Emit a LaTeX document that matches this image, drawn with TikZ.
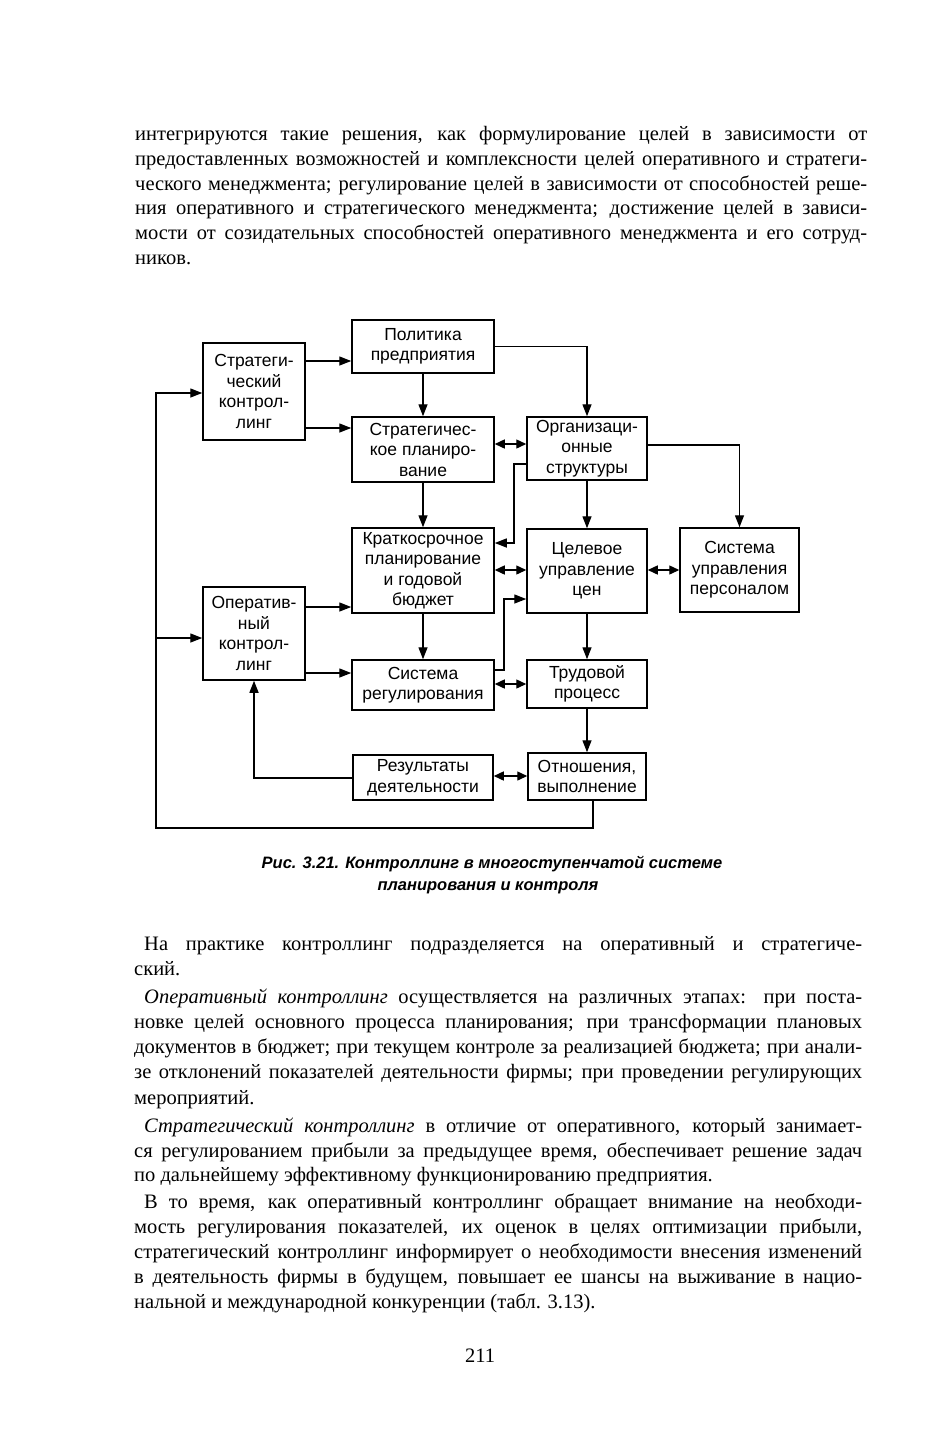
\documentclass[tikz,border=0pt]{standalone}
\usepackage{fontspec}
\setmainfont{Liberation Serif}
\newfontfamily\diagfont{Liberation Sans}
\usetikzlibrary{arrows.meta}
\newcommand\jline[5]{\node[body,anchor=base west] (#1) at (#2,#4) {\makebox[\dimexpr#3pt-#2pt\relax][s]{#5}};}
\newcommand\eline[4]{\node[body,anchor=base west] (#1) at (#2,#3) {#4};}
\begin{document}
\begin{tikzpicture}[x=1pt,y=-1pt,
  body/.style={inner sep=0pt,font=\fontsize{20.5}{25}\selectfont},
  box/.style={draw,line width=1.5pt,inner sep=0pt,align=center,
    font=\diagfont\fontsize{17.5}{20.5}\selectfont},
  captext/.style={inner sep=0pt,anchor=base,font=\diagfont\bfseries\itshape\fontsize{16.5}{22}\selectfont},
  arr/.style={line width=1.4pt,-{Triangle[length=12pt,width=9pt]}},
  darr/.style={line width=1.4pt,{Triangle[length=10pt,width=9pt]}-{Triangle[length=10pt,width=9pt]}}]
\fill[white] (0,0) rectangle (934,1440);
\useasboundingbox (0,0) rectangle (934,1440);

% ---- top paragraph ----
\jline{a1}{135}{867}{140}{интегрируются такие решения, как формулирование целей в зависимости от}
\jline{a2}{135}{867}{165}{предоставленных возможностей и комплексности целей оперативного и стратеги-}
\jline{a3}{135}{867}{190}{ческого менеджмента; регулирование целей в зависимости от способностей реше-}
\jline{a4}{135}{867}{214}{ния оперативного и стратегического менеджмента; достижение целей в зависи-}
\jline{a5}{135}{867}{239}{мости от созидательных способностей оперативного менеджмента и его сотруд-}
\eline{a6}{135}{264}{ников.}

% ---- diagram boxes ----
\node[box,minimum width=142pt,minimum height=53pt] (pol) at (423,346.5) {Политика\\предприятия};
\node[box,minimum width=102pt,minimum height=97pt] (sk) at (254,391.5) {Стратеги-\\ческий\\контрол-\\линг};
\node[box,minimum width=142pt,minimum height=65pt] (sp) at (423,449.5) {Стратегичес-\\кое планиро-\\вание};
\node[box,minimum width=120pt,minimum height=63pt] (os) at (587,448.5) {Организаци-\\онные\\структуры};
\node[box,minimum width=142pt,minimum height=85pt] (kp) at (423,570.5) {Краткосрочное\\планирование\\и годовой\\бюджет};
\node[box,minimum width=120pt,minimum height=84pt] (cu) at (587,571) {Целевое\\управление\\цен};
\node[box,minimum width=119pt,minimum height=84pt] (sup) at (739.5,570) {Система\\управления\\персоналом};
\node[box,minimum width=102pt,minimum height=93pt] (ok) at (254,633.5) {Оператив-\\ный\\контрол-\\линг};
\node[box,minimum width=142pt,minimum height=50pt] (sr) at (423,685) {Система\\регулирования};
\node[box,minimum width=120pt,minimum height=48pt] (tp) at (587,684) {Трудовой\\процесс};
\node[box,minimum width=140pt,minimum height=45pt] (res) at (423,777.5) {Результаты\\деятельности};
\node[box,minimum width=118pt,minimum height=47pt] (ot) at (587,776.5) {Отношения,\\выполнение};

% ---- connectors ----
\draw[arr] (sk.east|-0,361) -- (pol.west|-0,361);
\draw[arr] (sk.east|-0,428) -- (sp.west|-0,428);
\draw[arr] (pol.south) -- (sp.north);
\draw[arr] (pol.east) -| (os.north);
\draw[darr] (sp.east|-0,444) -- (os.west|-0,444);
\draw[arr] (os.east|-0,445) -| (sup.north);
\draw[arr] (os.west|-0,464) -- (514,464) -- (514,543) -- (kp.east|-0,543);
\draw[arr] (sp.south) -- (kp.north);
\draw[arr] (os.south) -- (cu.north);
\draw[darr] (kp.east|-0,570) -- (cu.west|-0,570);
\draw[darr] (cu.east|-0,570) -- (sup.west|-0,570);
\draw[arr] (ok.east|-0,607) -- (kp.west|-0,607);
\draw[arr] (ok.east|-0,673) -- (sr.west|-0,673);
\draw[arr] (kp.south) -- (sr.north);
\draw[arr] (sr.east|-0,670) -- (504,670) -- (504,599) -- (cu.west|-0,599);
\draw[darr] (sr.east|-0,684) -- (tp.west|-0,684);
\draw[arr] (cu.south) -- (tp.north);
\draw[arr] (tp.south) -- (ot.north);
\draw[darr] (res.east|-0,776) -- (ot.west|-0,776);
\draw[arr] (res.west|-0,778) -| (ok.south);
\coordinate (lp) at (156,638);
\draw[arr] ([xshift=6pt]ot.south) -- (593,828) -- (156,828) -- (156,393) -- (sk.west|-0,393);
\draw[arr] (lp) -- (ok.west|-lp);

% ---- caption ----
\node[captext] (cap1) at (492,868) {Рис. 3.21. Контроллинг в многоступенчатой системе};
\node[captext] (cap2) at (488,890) {планирования и контроля};

% ---- lower text ----
\jline{b1}{144}{862}{950}{На практике контроллинг подразделяется на оперативный и стратегиче-}
\eline{b2}{134}{975}{ский.}
\jline{b3}{144}{862}{1003}{\textit{Оперативный контроллинг} осуществляется на различных этапах: при поста-}
\jline{b4}{134}{862}{1028}{новке целей основного процесса планирования; при трансформации плановых}
\jline{b5}{134}{862}{1053}{документов в бюджет; при текущем контроле за реализацией бюджета; при анали-}
\jline{b6}{134}{862}{1078}{зе отклонений показателей деятельности фирмы; при проведении регулирующих}
\eline{b7}{134}{1104}{мероприятий.}
\jline{b8}{144}{862}{1132}{\textit{Стратегический контроллинг} в отличие от оперативного, который занимает-}
\jline{b9}{134}{862}{1157}{ся регулированием прибыли за предыдущее время, обеспечивает решение задач}
\eline{b10}{134}{1181}{по дальнейшему эффективному функционированию предприятия.}
\jline{b11}{144}{862}{1208}{В то время, как оперативный контроллинг обращает внимание на необходи-}
\jline{b12}{134}{862}{1233}{мость регулирования показателей, их оценок в целях оптимизации прибыли,}
\jline{b13}{134}{862}{1258}{стратегический контроллинг информирует о необходимости внесения изменений}
\jline{b14}{134}{862}{1283}{в деятельность фирмы в будущем, повышает ее шансы на выживание в нацио-}
\eline{b15}{134}{1308}{нальной и международной конкуренции (табл. 3.13).}
\node[body,anchor=base] (pg) at (480,1362) {211};
\end{tikzpicture}
\end{document}
